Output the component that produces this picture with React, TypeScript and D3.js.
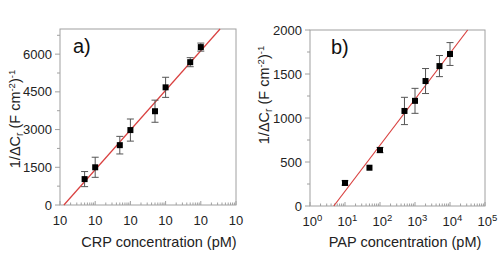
import React from "react";
import * as d3 from "d3";

// Panel a) CRP
const crpConc = [5, 10, 50, 100, 500, 1000, 5000, 10000];
const crpResp = [1030, 1500, 2380, 2980, 3730, 4680, 5680, 6280];
const crpErr = [300, 400, 350, 440, 440, 400, 180, 160];
const crpYTicks = [0, 1500, 3000, 4500, 6000];
const crpXTickLabels = ["10", "10", "10", "10", "10", "10"];

// Panel b) PAP
const papConc = [10, 50, 100, 500, 1000, 2000, 5000, 10000];
const papResp = [262, 435, 636, 1080, 1195, 1420, 1590, 1727];
const papErr = [25, 0, 30, 155, 142, 142, 120, 130];
const papYTicks = [0, 500, 1000, 1500, 2000];
const papXTickExp = ["0", "1", "2", "3", "4", "5"];

const FONT = "Liberation Sans, Arial, sans-serif";

function fit(xs: number[], ys: number[]) {
  const lx = xs.map((v) => Math.log10(v));
  const mx = d3.mean(lx)!;
  const my = d3.mean(ys)!;
  let sxy = 0, sxx = 0;
  lx.forEach((v, i) => {
    sxy += (v - mx) * (ys[i] - my);
    sxx += (v - mx) * (v - mx);
  });
  const slope = sxy / sxx;
  return { slope, intercept: my - slope * mx };
}

type PanelProps = {
  left: number; right: number; top: number; bottom: number;
  yMax: number; yTicks: number[]; yMinorStep: number;
  conc: number[]; resp: number[]; err: number[];
  xLabels: (x: number, i: number, xs: d3.ScaleLogarithmic<number, number>) => React.ReactNode;
  tag: string; tagX: number; tagY: number;
  title: string; titleX: number;
  yLabelX: number; yLabelY: number;
};

function Panel(p: PanelProps) {
  const x = d3.scaleLog().domain([1, 1e5]).range([p.left, p.right]);
  const y = d3.scaleLinear().domain([0, p.yMax]).range([p.bottom, p.top]);
  const f = fit(p.conc, p.resp);
  const x0 = Math.pow(10, -f.intercept / f.slope);
  const x1 = Math.pow(10, (p.yMax - f.intercept) / f.slope);
  const line = d3.line<[number, number]>().x((d) => x(d[0])).y((d) => y(d[1]));
  const fitPts: [number, number][] = [
    [x0, 0],
    [x1, p.yMax],
  ];
  const minorY = d3.range(0, p.yMax + 1e-6, p.yMinorStep).filter((v) => !p.yTicks.includes(v));
  const majorX = [1, 10, 100, 1000, 10000, 100000];
  const minorX: number[] = [];
  for (let d = 1; d < 1e5; d *= 10) for (let k = 2; k <= 9; k++) minorX.push(d * k);
  const grey = "#a0a0a0";
  return (
    <g>
      <rect x={p.left} y={p.top} width={p.right - p.left} height={p.bottom - p.top} fill="none" stroke={grey} strokeWidth={1} />
      {p.yTicks.map((t) => (
        <g key={"yt" + t}>
          <line x1={p.left - 5} x2={p.left} y1={y(t)} y2={y(t)} stroke={grey} />
          <text x={p.left - 8} y={y(t) + 4.5} textAnchor="end" fontSize={13} fontFamily={FONT} fill="#222">{t}</text>
        </g>
      ))}
      {minorY.map((t) => (
        <line key={"ym" + t} x1={p.left - 3} x2={p.left} y1={y(t)} y2={y(t)} stroke={grey} />
      ))}
      {majorX.map((t, i) => (
        <g key={"xt" + t}>
          <line x1={x(t)} x2={x(t)} y1={p.bottom} y2={p.bottom - 4} stroke={grey} />
          {p.xLabels(t, i, x)}
        </g>
      ))}
      {minorX.map((t) => (
        <line key={"xm" + t} x1={x(t)} x2={x(t)} y1={p.bottom} y2={p.bottom - 2.5} stroke={grey} />
      ))}
      <path d={line(fitPts) || ""} stroke="#d9403f" strokeWidth={1.2} fill="none" />
      {p.conc.map((c, i) => {
        const cx = x(c);
        const cy = y(p.resp[i]);
        const e = p.err[i];
        return (
          <g key={"pt" + i}>
            {e > 0 && (
              <g stroke="#555" strokeWidth={1}>
                <line x1={cx} x2={cx} y1={y(p.resp[i] + e)} y2={y(p.resp[i] - e)} />
                <line x1={cx - 3.5} x2={cx + 3.5} y1={y(p.resp[i] + e)} y2={y(p.resp[i] + e)} />
                <line x1={cx - 3.5} x2={cx + 3.5} y1={y(p.resp[i] - e)} y2={y(p.resp[i] - e)} />
              </g>
            )}
            <rect x={cx - 3} y={cy - 3} width={6} height={6} fill="#000" />
          </g>
        );
      })}
      <text x={p.tagX} y={p.tagY} fontSize={20} fontFamily={FONT} fill="#111">{p.tag}</text>
      <text x={p.titleX} y={247} textAnchor="middle" fontSize={14.5} fontFamily={FONT} fill="#222">{p.title}</text>
      <text transform={`translate(${p.yLabelX},${p.yLabelY}) rotate(-90)`} textAnchor="middle" fontSize={14.5} fontFamily={FONT} fill="#222">
        1/ΔC<tspan fontSize={10} dy={3}>r</tspan>
        <tspan dy={-3}> (F cm</tspan>
        <tspan fontSize={9.5} dy={-5}>-2</tspan>
        <tspan dy={5}>)</tspan>
        <tspan fontSize={9.5} dy={-5}>-1</tspan>
      </text>
    </g>
  );
}

export default function App() {
  return (
    <svg width={500} height={253} style={{ position: "absolute", left: 0, top: 0 }}>
      <rect width={500} height={253} fill="#fff" />
      <Panel
        left={60} right={236} top={29} bottom={205}
        yMax={7000} yTicks={crpYTicks} yMinorStep={750}
        conc={crpConc} resp={crpResp} err={crpErr}
        xLabels={(t, i, xs) => (
          <text x={xs(t)} y={225} textAnchor="middle" fontSize={13} fontFamily={FONT} fill="#222">{crpXTickLabels[i]}</text>
        )}
        tag="a)" tagX={73} tagY={53}
        title="CRP concentration (pM)" titleX={159}
        yLabelX={20} yLabelY={119}
      />
      <Panel
        left={310} right={485} top={30} bottom={206}
        yMax={2000} yTicks={papYTicks} yMinorStep={250}
        conc={papConc} resp={papResp} err={papErr}
        xLabels={(t, i, xs) => (
          <text x={xs(t) - 7.5} y={226} fontSize={13} fontFamily={FONT} fill="#222">
            10<tspan fontSize={9.5} dy={-5}>{papXTickExp[i]}</tspan>
          </text>
        )}
        tag="b)" tagX={331} tagY={54}
        title="PAP concentration (pM)" titleX={405}
        yLabelX={269} yLabelY={95}
      />
    </svg>
  );
}
